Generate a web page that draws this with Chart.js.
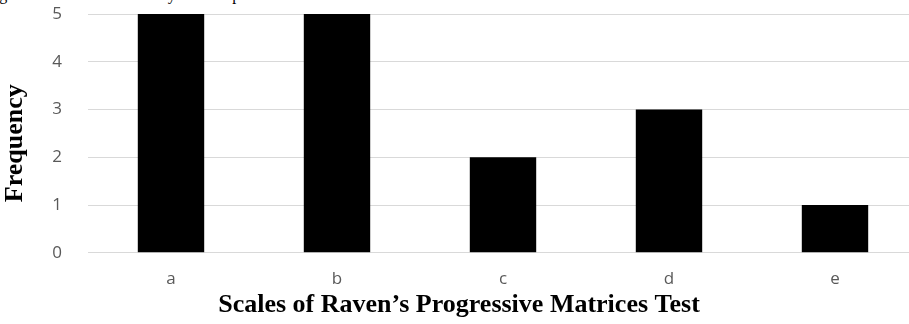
<!DOCTYPE html>
<html>
<head>
<meta charset="utf-8">
<script src="https://cdn.jsdelivr.net/npm/chart.js@4"></script>
<style>
html,body{margin:0;padding:0;width:909px;height:324px;overflow:hidden;background:#fff;}
#cap{position:absolute;left:-14px;top:-13px;font-family:"Liberation Serif","Times New Roman",serif;font-size:16px;line-height:16px;color:#000;white-space:nowrap;}
#c{position:absolute;left:0;top:0;}
</style>
</head>
<body>
<div id="cap">Figure 3. Correct Matrices by scale in post-test.</div>
<canvas id="c" width="918" height="324"></canvas>
<script>
const categories = ['a', 'b', 'c', 'd', 'e'];
const frequencies = [5, 5, 2, 3, 1];
const yTicks = [0, 1, 2, 3, 4, 5];
const xTitle = 'Scales of Raven\u2019s Progressive Matrices Test';
const yTitle = 'Frequency';

new Chart(document.getElementById('c'), {
  type: 'bar',
  data: {
    labels: categories,
    datasets: [{
      data: frequencies,
      backgroundColor: '#000000',
      borderWidth: 0,
      barPercentage: 0.4,
      categoryPercentage: 1.0
    }]
  },
  options: {
    responsive: false,
    animation: false,
    layout: { padding: { top: 14, right: 0, bottom: 0, left: 0 } },
    plugins: {
      legend: { display: false },
      tooltip: { enabled: false },
      title: {
        display: true, position: 'bottom', text: xTitle, color: '#000',
        font: { family: '"Liberation Serif", "Times New Roman", serif', size: 26, weight: 'bold', lineHeight: 1.2 },
        padding: { top: 0, bottom: 3 }
      }
    },
    scales: {
      x: {
        grid: { display: false, drawTicks: false },
        border: { display: false },
        ticks: { color: '#595959', font: { family: '"Open Sans", sans-serif', size: 17 }, padding: 16 },
        afterFit: s => { s.height = 37; s.paddingLeft = 0; s.paddingRight = 0; }
      },
      y: {
        min: 0, max: 5,
        afterBuildTicks: s => { s.ticks = yTicks.map(v => ({ value: v })); },
        grid: { color: '#d9d9d9', lineWidth: 1, drawTicks: false },
        border: { display: false },
        ticks: { color: '#595959', font: { family: '"Open Sans", sans-serif', size: 17 }, padding: 26 },
        title: {
          display: true, text: yTitle + '\u00a0\u00a0\u00a0', color: '#000',
          font: { family: '"Liberation Serif", "Times New Roman", serif', size: 26, weight: 'bold', lineHeight: 1.2 },
          padding: { top: 0, bottom: 0 }
        },
        afterFit: s => { s.width = 88; s.paddingTop = 0; s.paddingBottom = 0; }
      }
    }
  }
});
</script>
</body>
</html>
